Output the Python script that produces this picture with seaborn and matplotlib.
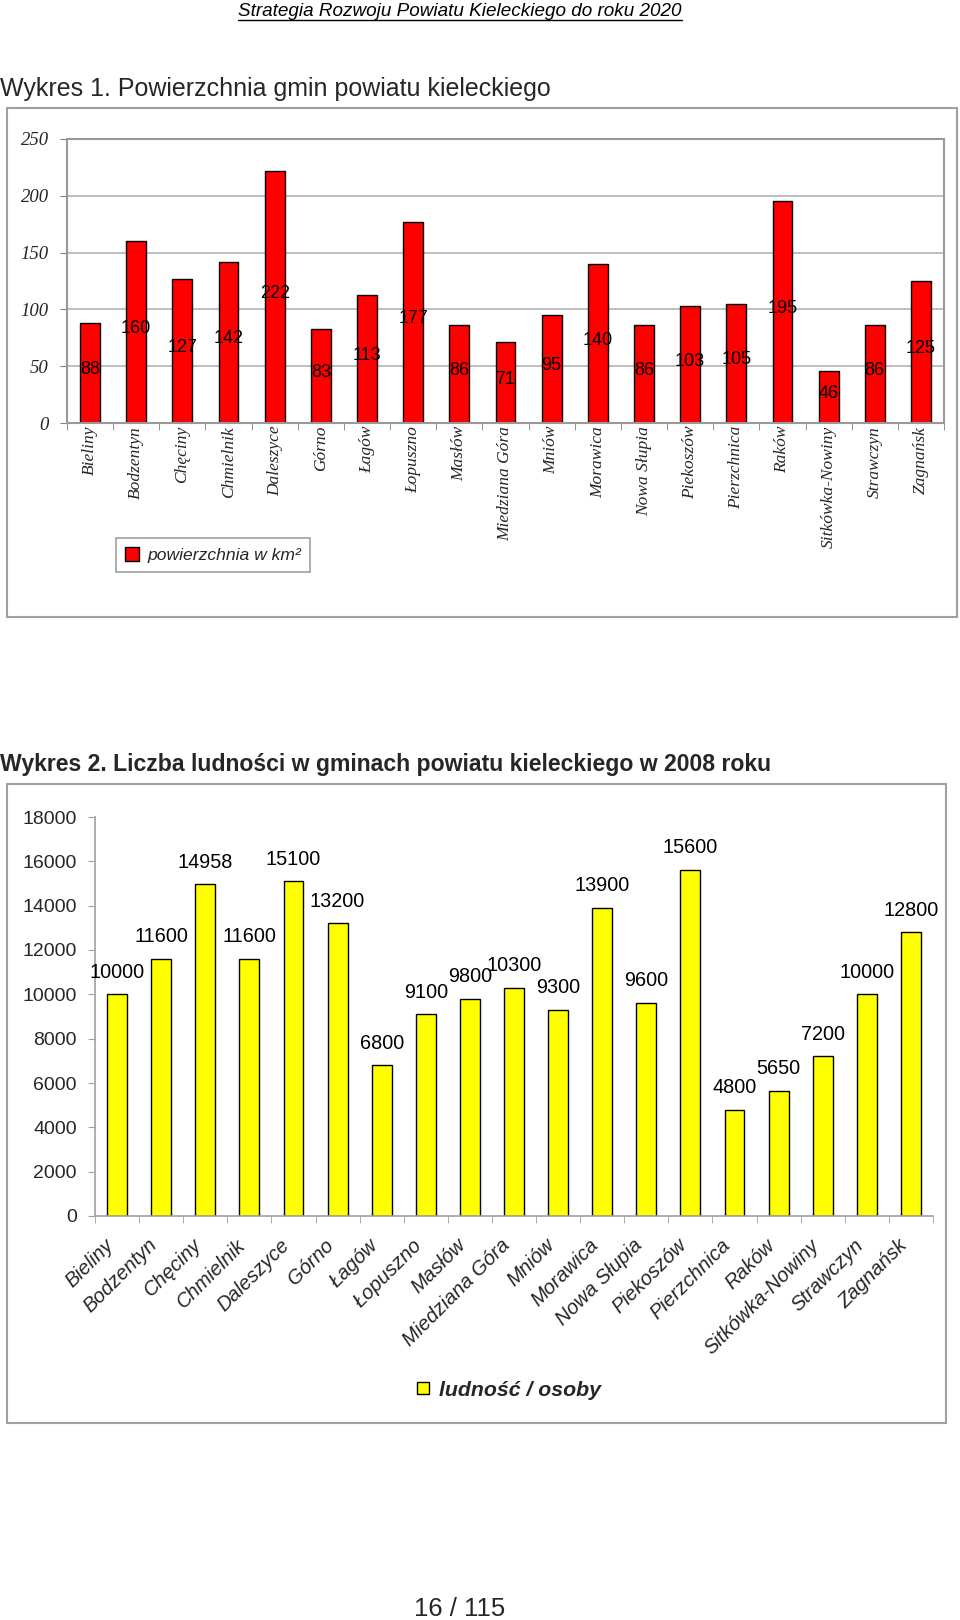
import numpy as np
import pandas as pd
import matplotlib
matplotlib.use("Agg")
import matplotlib.pyplot as plt
import seaborn as sns
from matplotlib.patches import Rectangle, Patch
from matplotlib.lines import Line2D

# ---------------- data ----------------
gminy = ["Bieliny", "Bodzentyn", "Chęciny", "Chmielnik", "Daleszyce", "Górno", "Łagów",
         "Łopuszno", "Masłów", "Miedziana Góra", "Mniów", "Morawica", "Nowa Słupia",
         "Piekoszów", "Pierzchnica", "Raków", "Sitkówka-Nowiny", "Strawczyn", "Zagnańsk"]
powierzchnia = [88, 160, 127, 142, 222, 83, 113, 177, 86, 71, 95, 140, 86, 103, 105, 195, 46, 86, 125]
ludnosc = [10000, 11600, 14958, 11600, 15100, 13200, 6800, 9100, 9800, 10300, 9300, 13900,
           9600, 15600, 4800, 5650, 7200, 10000, 12800]
y1_ticks = [0, 50, 100, 150, 200, 250]
y2_ticks = [0, 2000, 4000, 6000, 8000, 10000, 12000, 14000, 16000, 18000]

header = "Strategia Rozwoju Powiatu Kieleckiego do roku 2020"
title1 = "Wykres 1. Powierzchnia gmin powiatu kieleckiego"
title2 = "Wykres 2. Liczba ludności w gminach powiatu kieleckiego w 2008 roku"
legend1 = "powierzchnia w km²"
legend2 = "ludność / osoby"
footer = "16 / 115"

# ---------------- style ----------------
sns.set_style("white")
plt.rcParams["font.family"] = ["Liberation Sans", "DejaVu Sans"]
SERIF = ["Liberation Serif", "DejaVu Serif"]
W, H = 960, 1620

fig = plt.figure(figsize=(9.6, 16.2), dpi=100)

def fx(px):
    return px / W

def fy(py):
    return 1 - py / H

# header
hdr = fig.text(fx(460), fy(11), header, fontsize=13.6, fontstyle="italic",
               ha="center", va="center", color="black")

# titles
fig.text(0, fy(89), title1, fontsize=18, ha="left", va="center")
fig.text(0, fy(765), title2, fontsize=16.6, fontweight="bold", ha="left", va="center")

# chart frames
fig.add_artist(Rectangle((fx(7), fy(617)), fx(950), 509 / H, transform=fig.transFigure,
                         fill=False, edgecolor="#a0a0a0", lw=1.5))
fig.add_artist(Rectangle((fx(7), fy(1423)), fx(939), 639 / H, transform=fig.transFigure,
                         fill=False, edgecolor="#a0a0a0", lw=1.5))

# ---------------- chart 1 ----------------
ax1 = fig.add_axes([fx(67), fy(423), fx(944 - 67), (423 - 139) / H])
df1 = pd.DataFrame({"gmina": gminy, "pow": powierzchnia})
sns.barplot(data=df1, x="gmina", y="pow", color="#FF0000", saturation=1,
            edgecolor="black", linewidth=1.0, width=0.43, ax=ax1)
ax1.set_xlim(-0.5, len(gminy) - 0.5)
ax1.set_ylim(0, 250)
ax1.set_xlabel("")
ax1.set_ylabel("")
ax1.set_axisbelow(True)
ax1.yaxis.grid(True, color="#b4b4b4", lw=1.2)
ax1.xaxis.grid(False)
for s in ax1.spines.values():
    s.set_visible(True)
    s.set_color("#999999")
    s.set_linewidth(1.5)
ax1.set_xticks(range(len(gminy)))
ax1.set_xticklabels(gminy, rotation=90, family=SERIF, fontstyle="italic",
                    fontsize=12.5, ha="center", va="top")
ax1.set_xticks(np.arange(-0.5, len(gminy), 1), minor=True)
ax1.tick_params(axis="x", which="major", length=0, pad=2)
ax1.tick_params(axis="x", which="minor", length=5, color="#808080", direction="out", bottom=True)
ax1.set_yticks(y1_ticks)
ax1.set_yticklabels([str(t) for t in y1_ticks], family=SERIF, fontstyle="italic", fontsize=13.5)
ax1.tick_params(axis="y", length=5, color="#808080", direction="out", left=True, pad=8)
for i, v in enumerate(powierzchnia):
    ax1.annotate(str(v), (i, v / 2), xytext=(0, 2.5), textcoords="offset points",
                 ha="center", va="center", fontsize=13, color="black")

leg1 = fig.legend([Patch(facecolor="#FF0000", edgecolor="black", lw=1)], [legend1],
                  loc="center", bbox_to_anchor=(fx(213), fy(555)), frameon=True,
                  fancybox=False, edgecolor="#a0a0a0", framealpha=1,
                  prop=dict(style="italic", size=12.6), handlelength=0.8,
                  handleheight=0.8, handletextpad=0.45, borderpad=0.5)
leg1.get_frame().set_linewidth(1.2)

# ---------------- chart 2 ----------------
ax2 = fig.add_axes([fx(95), fy(1216), fx(933 - 95), (1216 - 817) / H])
df2 = pd.DataFrame({"gmina": gminy, "lud": ludnosc})
sns.barplot(data=df2, x="gmina", y="lud", color="#FFFF00", saturation=1,
            edgecolor="black", linewidth=1.0, width=0.45, ax=ax2)
ax2.set_xlim(-0.5, len(gminy) - 0.5)
ax2.set_ylim(0, 18000)
ax2.set_xlabel("")
ax2.set_ylabel("")
ax2.grid(False)
ax2.spines["top"].set_visible(False)
ax2.spines["right"].set_visible(False)
for s in ("left", "bottom"):
    ax2.spines[s].set_color("#a0a0a0")
    ax2.spines[s].set_linewidth(1.2)
ax2.set_xticks(range(len(gminy)))
ax2.set_xticklabels(gminy, rotation=45, fontstyle="italic", fontsize=14.5,
                    ha="right", va="top")
ax2.set_xticks(np.arange(-0.5, len(gminy), 1), minor=True)
ax2.tick_params(axis="x", which="major", length=0, pad=14)
ax2.tick_params(axis="x", which="minor", length=5, color="#a0a0a0", direction="out", bottom=True)
ax2.set_yticks(y2_ticks)
ax2.set_yticklabels([str(t) for t in y2_ticks], fontsize=14)
ax2.tick_params(axis="y", length=5, color="#a0a0a0", direction="out", left=True, pad=8)
for i, v in enumerate(ludnosc):
    ax2.annotate(str(v), (i, v), xytext=(0, 16), textcoords="offset points",
                 ha="center", va="center", fontsize=14.3, color="black")

fig.legend([Patch(facecolor="#FFFF00", edgecolor="black", lw=1)], [legend2],
           loc="center left", bbox_to_anchor=(fx(398), fy(1390)), frameon=False,
           prop=dict(style="italic", weight="bold", size=15.3), handlelength=0.55,
           handleheight=0.55, handletextpad=0.5)

# footer
fig.text(fx(460), fy(1609), footer, fontsize=18.5, ha="center", va="center")

# underline header
fig.canvas.draw()
bb = hdr.get_window_extent(fig.canvas.get_renderer())
fig.add_artist(Line2D([bb.x0 / W, bb.x1 / W], [fy(19.5), fy(19.5)], transform=fig.transFigure,
                      color="black", lw=1))

fig.savefig("out.png", dpi=100)
